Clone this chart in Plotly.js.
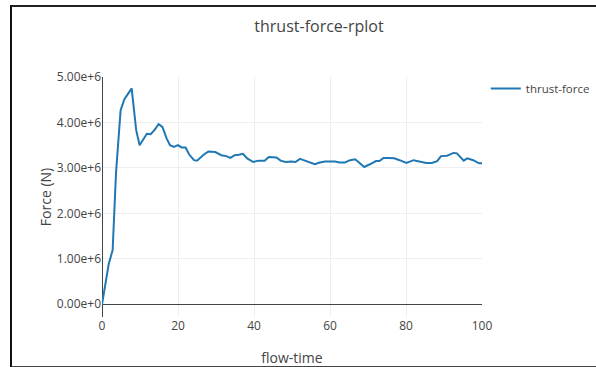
<!DOCTYPE html>
<html>
<head>
<meta charset="utf-8">
<script src="https://cdn.plot.ly/plotly-3.0.1.min.js"></script>
<style>
  html, body { margin: 0; padding: 0; background: #fff; }
  #chart { width: 596px; height: 367px; }
  #frame { position: absolute; left: 10px; top: 5px; width: 600px; height: 359px;
           border-left: 2px solid #111; border-top: 2px solid #222; border-bottom: 2px solid #444;
           pointer-events: none; }
</style>
</head>
<body>
<div id="chart"></div>
<div id="frame"></div>
<script>
// Values
const flowTime = [0, 0.9, 1.8, 2.8, 3.7, 4.9, 5.9, 7.8, 9.0, 9.9, 11.0, 11.8, 12.8, 13.8, 14.9, 15.9, 17.0, 17.9, 18.9, 20.0,
  20.9, 22.0, 22.9, 24.2, 25.0, 26.2, 26.9, 28.0, 29.8, 31.4, 32.7, 33.8, 34.9, 36.0, 37.1, 38.2, 39.8, 41.2, 42.8, 43.9,
  45.9, 47.0, 48.3, 49.8, 50.9, 52.1, 53.4, 54.7, 56.0, 57.3, 58.7, 60.0, 61.3, 62.6, 63.9, 65.3, 66.6, 67.5, 69.0, 70.5,
  72.1, 73.0, 74.1, 75.4, 76.9, 78.3, 80.1, 82.0, 83.8, 85.3, 86.8, 88.2, 89.2, 90.8, 92.5, 93.4, 95.2, 96.1, 97.7, 99.2, 100];
const thrustForce = [0, 0.42e6, 0.90e6, 1.19e6, 2.91e6, 4.27e6, 4.51e6, 4.75e6, 3.83e6, 3.50e6, 3.63e6, 3.75e6, 3.74e6, 3.83e6, 3.96e6, 3.90e6, 3.65e6, 3.50e6, 3.46e6, 3.50e6,
  3.45e6, 3.45e6, 3.30e6, 3.17e6, 3.16e6, 3.26e6, 3.30e6, 3.36e6, 3.35e6, 3.28e6, 3.26e6, 3.22e6, 3.28e6, 3.29e6, 3.31e6, 3.21e6, 3.13e6, 3.16e6, 3.16e6, 3.24e6,
  3.23e6, 3.16e6, 3.13e6, 3.14e6, 3.13e6, 3.20e6, 3.16e6, 3.12e6, 3.08e6, 3.12e6, 3.14e6, 3.14e6, 3.14e6, 3.12e6, 3.12e6, 3.17e6, 3.19e6, 3.13e6, 3.02e6, 3.08e6,
  3.15e6, 3.15e6, 3.22e6, 3.22e6, 3.21e6, 3.17e6, 3.11e6, 3.17e6, 3.14e6, 3.11e6, 3.11e6, 3.15e6, 3.26e6, 3.27e6, 3.33e6, 3.32e6, 3.16e6, 3.21e6, 3.17e6, 3.10e6, 3.10e6];
const seriesName = 'thrust-force';
const chartTitle = 'thrust-force-rplot';
const xTitle = 'flow-time';
const yTitle = 'Force (N)';

const trace = {
  x: flowTime, y: thrustForce, type: 'scatter', mode: 'lines', name: seriesName,
  line: { color: '#1f77b4', width: 2 }, showlegend: true
};

const layout = {
  width: 596, height: 367,
  margin: { l: 102, r: 114, t: 77, b: 50, autoexpand: false },
  paper_bgcolor: '#fff', plot_bgcolor: '#fff',
  font: { family: '"Open Sans", verdana, arial, sans-serif', size: 12, color: '#444' },
  title: { text: chartTitle, font: { size: 16, color: '#444' }, x: 319/596, xref: 'container', xanchor: 'center',
           y: 1 - 26/367, yref: 'container', yanchor: 'middle' },
  xaxis: { title: { text: xTitle, font: { size: 14 } }, range: [0, 100], dtick: 20, gridcolor: '#eee',
           zeroline: true, zerolinecolor: '#444', zerolinewidth: 1, showline: false },
  yaxis: { title: { text: yTitle, font: { size: 14 } }, range: [-0.28e6, 5.0e6], tickvals: [0, 1e6, 2e6, 3e6, 4e6, 5e6],
           tickformat: '.2e', gridcolor: '#eee', zeroline: true, zerolinecolor: '#444', zerolinewidth: 1, showline: false },
  legend: { x: 1.01, y: 1.0125, xanchor: 'left', yanchor: 'top', font: { size: 11.5 } },
  showlegend: true
};

Plotly.newPlot('chart', [trace], layout, { displayModeBar: false, staticPlot: true });
</script>
</body>
</html>
